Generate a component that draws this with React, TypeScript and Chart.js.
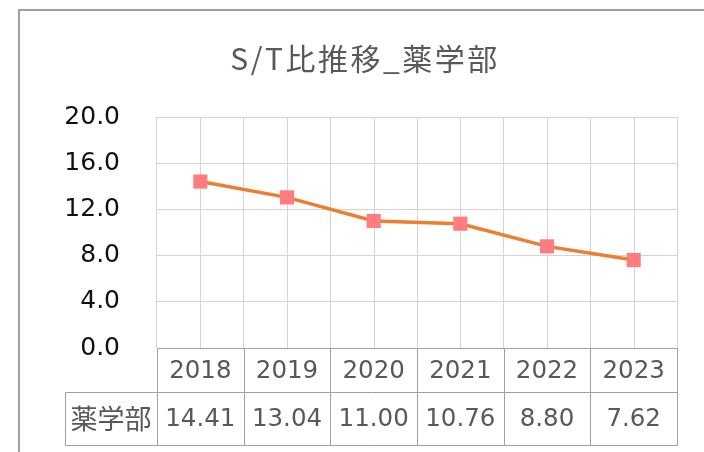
import React, { useEffect, useRef } from "react";
import { Chart, registerables } from "chart.js";

Chart.register(...registerables);

const titleText = "S/T比推移_薬学部";
const categories = ["2018", "2019", "2020", "2021", "2022", "2023"];
const seriesName = "薬学部";
const values = [14.41, 13.04, 11.0, 10.76, 8.8, 7.62];
const yMin = 0;
const yMax = 20;
const yStep = 4;

const GRID = "#d4d4d4";
const TABLE_LINE = "#a0a0a0";
const TEXT_GRAY = "#595959";

const tablePlugin = {
  id: "dataTable",
  beforeDraw(chart: any) {
    const ctx = chart.ctx;
    ctx.save();
    ctx.fillStyle = "#ffffff";
    ctx.fillRect(0, 0, chart.width, chart.height);
    // outer frame
    ctx.strokeStyle = "#9f9f9f";
    ctx.lineWidth = 2;
    ctx.beginPath();
    ctx.moveTo(19, chart.height);
    ctx.lineTo(19, 10);
    ctx.lineTo(chart.width, 10);
    ctx.stroke();
    // title
    ctx.fillStyle = TEXT_GRAY;
    ctx.font = "30px 'Noto Sans CJK JP'";
    (ctx as any).letterSpacing = "2.5px";
    ctx.textAlign = "center";
    ctx.textBaseline = "middle";
    ctx.fillText(titleText, 365, 59);
    ctx.restore();
  },
  beforeDatasetsDraw(chart: any) {
    const ctx = chart.ctx;
    const xs = chart.scales.x;
    const a = chart.chartArea;
    ctx.save();
    ctx.strokeStyle = GRID;
    ctx.lineWidth = 1;
    categories.forEach((_, i) => {
      const x = Math.round(xs.getPixelForValue(i)) + 0.5;
      ctx.beginPath();
      ctx.moveTo(x, a.top);
      ctx.lineTo(x, a.bottom);
      ctx.stroke();
    });
    ctx.restore();
  },
  afterDraw(chart: any) {
    const ctx = chart.ctx;
    const xs = chart.scales.x;
    const a = chart.chartArea;
    const headerH = 44;
    const rowH = 53;
    const labelLeft = 65;
    const top = a.bottom + 0.5;
    const mid = top + headerH;
    const bottom = mid + rowH;
    const n = categories.length;
    const w = (a.right - a.left) / n;
    const bounds: number[] = [];
    for (let i = 0; i <= n; i++) bounds.push(Math.round(a.left + i * w) + 0.5);

    ctx.save();
    ctx.strokeStyle = TABLE_LINE;
    ctx.lineWidth = 1;
    ctx.beginPath();
    ctx.moveTo(bounds[0], top);
    ctx.lineTo(bounds[n], top);
    ctx.moveTo(labelLeft + 0.5, mid);
    ctx.lineTo(bounds[n], mid);
    ctx.moveTo(labelLeft + 0.5, bottom);
    ctx.lineTo(bounds[n], bottom);
    ctx.moveTo(labelLeft + 0.5, mid);
    ctx.lineTo(labelLeft + 0.5, bottom);
    bounds.forEach((x) => {
      ctx.moveTo(x, top);
      ctx.lineTo(x, bottom);
    });
    ctx.stroke();

    ctx.fillStyle = TEXT_GRAY;
    ctx.textAlign = "center";
    ctx.textBaseline = "middle";
    ctx.font = "24.5px 'DejaVu Sans'";
    categories.forEach((c, i) => {
      const x = xs.getPixelForValue(i);
      ctx.fillText(c, x, top + headerH / 2 + 1);
      ctx.fillText(values[i].toFixed(2), x, mid + rowH / 2 + 1);
    });
    ctx.font = "27px 'Noto Sans CJK JP'";
    ctx.fillText(seriesName, (labelLeft + a.left) / 2, mid + rowH / 2);
    ctx.restore();
  },
};

export default function App() {
  const ref = useRef<HTMLCanvasElement>(null);
  useEffect(() => {
    document.body.style.margin = "0";
    const canvas = ref.current;
    if (!canvas) return;
    const chart = new Chart(canvas, {
      type: "line",
      data: {
        labels: categories,
        datasets: [
          {
            label: seriesName,
            data: values,
            borderColor: "#ED7D31",
            borderWidth: 3.5,
            backgroundColor: "#FF7C80",
            pointStyle: "rect",
            pointRadius: 10,
            pointHoverRadius: 10,
            pointBackgroundColor: "#FF7C80",
            pointBorderColor: "#FF7C80",
            pointBorderWidth: 0,
            tension: 0,
          },
        ],
      },
      options: {
        responsive: false,
        animation: false,
        devicePixelRatio: 1,
        layout: { padding: { left: 0, right: 27, top: 117, bottom: 0 } },
        plugins: {
          legend: { display: false },
          tooltip: { enabled: false },
          title: { display: false },
        },
        scales: {
          x: {
            type: "category",
            offset: true,
            grid: { display: true, color: GRID, offset: true, drawTicks: false },
            border: { display: false },
            ticks: { display: false },
            afterFit: (s: any) => {
              s.height = 104;
            },
          },
          y: {
            min: yMin,
            max: yMax,
            grid: { color: GRID, drawTicks: false },
            border: { display: false },
            ticks: {
              stepSize: yStep,
              padding: 37,
              color: "#111111",
              font: { family: "'DejaVu Sans'", size: 25 },
              callback: (v: any) => Number(v).toFixed(1),
            },
            afterFit: (s: any) => {
              s.width = 157;
            },
          },
        },
      },
      plugins: [tablePlugin],
    });
    return () => chart.destroy();
  }, []);
  return (
    <canvas
      ref={ref}
      width={704}
      height={452}
      style={{ display: "block", width: 704, height: 452 }}
    />
  );
}
